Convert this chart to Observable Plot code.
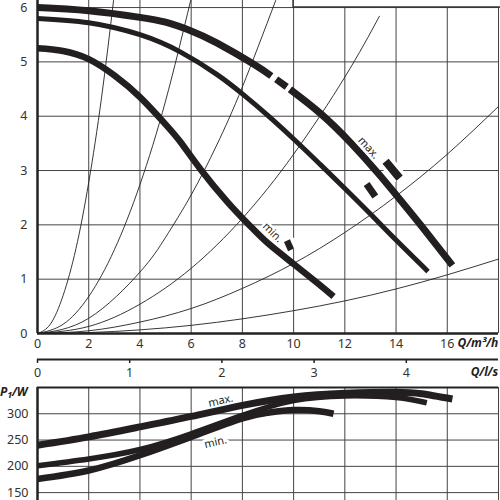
<!DOCTYPE html>
<html><head><meta charset="utf-8">
<script src="https://cdn.jsdelivr.net/npm/d3@7"></script>
<script src="https://cdn.jsdelivr.net/npm/@observablehq/plot@0.6"></script>
<style>
html,body{margin:0;padding:0;background:#fff;}
#chart{position:relative;width:500px;height:500px;overflow:hidden;font-family:"Noto Sans",sans-serif;background:#fff;}
.panel{position:absolute;left:0;}
.panel svg{display:block;overflow:visible;}
.ulab{position:absolute;font-weight:bold;font-style:italic;font-size:12px;line-height:12px;color:#222;white-space:nowrap;letter-spacing:-0.2px;}
</style></head><body>
<div id="chart">
  <div class="panel" id="top" style="top:0px"></div>
  <div class="panel" id="ls" style="top:352px"></div>
  <div class="panel" id="bot" style="top:380px"></div>
  <span class="ulab" style="right:2px;top:337px">Q/m³/h</span>
  <span class="ulab" style="right:2px;top:366px">Q/l/s</span>
  <span class="ulab" style="left:0px;top:386px;font-size:12px">P<sub style="font-size:9px;vertical-align:-2px">1</sub>/W</span>
</div>
<script>
// ---- tick values ----
const qTicks = [0, 2, 4, 6, 8, 10, 12, 14, 16];
const hTicks = [0, 1, 2, 3, 4, 5, 6];
const lsTicks = [0, 1, 2, 3, 4];
const pTicks = [150, 200, 250, 300];

// ---- pump head curves H (m) vs Q (m3/h) ----
const hMaxA_Q = [0, 2, 4, 5, 6, 7, 8.4, 9.13];
const hMaxA_H = [6.0, 5.94, 5.82, 5.73, 5.57, 5.35, 4.97, 4.74];
const hMaxB_Q = [9.32, 9.73];
const hMaxB_H = [4.68, 4.54];
const hMaxC_Q = [9.86, 11.05, 12.23, 13.28, 14.06, 15, 16.2];
const hMaxC_H = [4.495, 4.05, 3.51, 2.96, 2.52, 1.975, 1.255];

const hMid_Q = [0, 2, 4, 5.59, 7, 8, 9, 10, 11, 12, 13, 14, 15.25];
const hMid_H = [5.8, 5.72, 5.5, 5.18, 4.77, 4.41, 4.01, 3.58, 3.13, 2.67, 2.2, 1.72, 1.14];

const hMin_Q = [0, 1, 2, 3, 4, 5, 5.59, 6.37, 7.42, 8.3, 9, 10, 11, 11.56];
const hMin_H = [5.25, 5.2, 5.05, 4.75, 4.35, 3.85, 3.52, 3.02, 2.42, 1.98, 1.66, 1.28, 0.9, 0.68];

// ---- system curves ----
const sys1Q = [0, 0.5, 1, 1.5, 2, 2.5, 2.97];
const sys1H = [0, 0.17, 0.7, 1.56, 2.78, 4.34, 6.13];
const sys2Q = [0, 1, 2, 3, 4, 5, 5.98];
const sys2H = [0, 0.17, 0.68, 1.54, 2.74, 4.28, 6.13];
const sys3Q = [0, 2, 4, 5, 6, 7, 8, 9.3];
const sys3H = [0, 0.28, 1.13, 1.77, 2.55, 3.47, 4.54, 6.13];
const sys4Q = [0, 2, 4, 6, 8, 10, 12, 13.35];
const sys4H = [0, 0.13, 0.54, 1.2, 2.12, 3.3, 4.72, 5.84];
const sys5Q = [0, 2, 4, 6, 8, 10, 12, 14, 16, 18];
const sys5H = [0, 0.05, 0.21, 0.46, 0.83, 1.29, 1.86, 2.53, 3.3, 4.18];
const sys6Q = [0, 2, 4, 6, 8, 10, 12, 14, 16, 18];
const sys6H = [0, 0.017, 0.067, 0.15, 0.27, 0.42, 0.6, 0.82, 1.08, 1.37];

// ---- setting markers (short bars) ----
const markQ1 = [13.59, 12.85, 9.74];
const markH1 = [3.17, 2.75, 1.71];
const markQ2 = [14.14, 13.19, 9.9];
const markH2 = [2.86, 2.52, 1.54];
const markW = [8, 7, 6.5];

// ---- labels ----
const headLabels = ["max.", "min."];
const headLabelQ = [12.93, 9.18];
const headLabelH = [3.42, 1.86];
const headLabelRot = [48, 44];

// ---- power P1 (W) vs Q ----
const pMax_Q = [0, 2, 4, 6, 8, 10, 12, 14, 15, 16.2];
const pMax_W = [240, 256, 275, 295, 316, 332, 339, 341, 338, 328];
const pMid_Q = [0, 2, 4, 6, 8, 10, 12, 14, 15.2];
const pMid_W = [201, 214, 232, 262, 297, 325, 334, 331, 321];
const pMin_Q = [0, 2, 4, 6, 8, 9, 10, 11, 11.56];
const pMin_W = [176, 192, 221, 256, 291, 302, 307, 305, 300];

const powLabels = ["max.", "min."];
const powLabelQ = [7.15, 6.95];
const powLabelW = [325, 246];

// ---- build ----
const ink = "#231f20";
const gridC = "#444";
const pts = (qs, vs) => qs.map((q, i) => ({q, v: vs[i]}));
const font = {fontFamily: "'Noto Sans', sans-serif", fontSize: "12.5px", color: "#333", background: "transparent"};
const intFmt = d => String(d);

const thin = (qs, hs) => Plot.line(pts(qs, hs), {x: "q", y: "v", stroke: ink, strokeWidth: 0.9, curve: "natural"});
const thick = (qs, hs, w) => Plot.line(pts(qs, hs), {x: "q", y: "v", stroke: ink, strokeWidth: w, curve: "natural", strokeLinecap: "butt"});

const markers = markQ1.map((q, i) => ({x1: q, y1: markH1[i], x2: markQ2[i], y2: markH2[i], w: markW[i]}));
const hLab = headLabels.map((t, i) => ({t, q: headLabelQ[i], h: headLabelH[i], r: headLabelRot[i]}));

const topPlot = Plot.plot({
  width: 500, height: 353,
  marginLeft: 37, marginRight: 2, marginTop: 0, marginBottom: 20,
  x: {domain: [0, 18], axis: null},
  y: {domain: [0, 6.13], axis: null},
  style: font,
  marks: [
    Plot.ruleX(qTicks.slice(1).concat([18]), {y1: 0, y2: 6.13, stroke: gridC, strokeWidth: 1}),
    Plot.ruleY(hTicks.slice(1), {x1: 0, x2: 18, stroke: gridC, strokeWidth: 1}),
    Plot.rect([0], {x1: 10, x2: 18.3, y1: 6, y2: 6.6, fill: "white", stroke: "#333", strokeWidth: 1.6}),
    thin(sys1Q, sys1H), thin(sys2Q, sys2H), thin(sys3Q, sys3H),
    thin(sys4Q, sys4H), thin(sys5Q, sys5H), thin(sys6Q, sys6H),
    Plot.link(markers, {x1: "x1", y1: "y1", x2: "x2", y2: "y2", stroke: "white", strokeWidth: 15, strokeLinecap: "butt"}),
    thick(hMaxA_Q, hMaxA_H, 7), thick(hMaxB_Q, hMaxB_H, 7), thick(hMaxC_Q, hMaxC_H, 7),
    thick(hMid_Q, hMid_H, 5),
    thick(hMin_Q, hMin_H, 6.5),
    Plot.link(markers, {x1: "x1", y1: "y1", x2: "x2", y2: "y2", stroke: ink, strokeWidth: "w", strokeLinecap: "butt"}),
    Plot.text(hLab, {x: "q", y: "h", text: "t", rotate: "r", fontSize: 11, fill: ink, stroke: "white", strokeWidth: 5}),
    Plot.ruleX([0], {y1: 0, y2: 6.13, stroke: "#222", strokeWidth: 2.5}),
    Plot.ruleY([0], {x1: 0, x2: 18, stroke: "#222", strokeWidth: 2.5}),
    Plot.axisX(qTicks, {tickSize: 0, tickPadding: 6, label: null, fill: "#333", tickFormat: intFmt}),
    Plot.axisY(hTicks, {tickSize: 0, tickPadding: 10, label: null, fill: "#333", tickFormat: intFmt})
  ]
});
document.getElementById("top").appendChild(topPlot);

const lsPlot = Plot.plot({
  width: 500, height: 30,
  marginLeft: 37, marginRight: 2, marginTop: 7, marginBottom: 23,
  x: {domain: [0, 5], axis: null},
  y: {domain: [0, 1], axis: null},
  style: font,
  marks: [
    Plot.ruleY([0], {x1: 0, x2: 5, stroke: "#222", strokeWidth: 2}),
    Plot.axisX(lsTicks, {tickSize: 4, tickPadding: 4.5, label: null, stroke: "#222", strokeWidth: 1.5, fill: "#333", tickFormat: intFmt})
  ]
});
document.getElementById("ls").appendChild(lsPlot);

const pLab = powLabels.map((t, i) => ({t, q: powLabelQ[i], w: powLabelW[i]}));
const botPlot = Plot.plot({
  width: 500, height: 120,
  marginLeft: 37, marginRight: 2, marginTop: 7, marginBottom: 0,
  x: {domain: [0, 18], axis: null},
  y: {domain: [135, 350], axis: null},
  style: font,
  marks: [
    Plot.ruleX(qTicks.slice(1).concat([18]), {y1: 135, y2: 350, stroke: gridC, strokeWidth: 1}),
    Plot.ruleY(pTicks, {x1: 0, x2: 18, stroke: gridC, strokeWidth: 1}),
    Plot.text(pLab, {x: "q", y: "w", text: "t", rotate: -13, fontSize: 11, fill: ink, stroke: "white", strokeWidth: 6}),
    thick(pMax_Q, pMax_W, 7),
    thick(pMid_Q, pMid_W, 5.5),
    thick(pMin_Q, pMin_W, 6.5),
    Plot.ruleY([350], {x1: 0, x2: 18, stroke: "#222", strokeWidth: 2.2}),
    Plot.ruleX([0], {y1: 135, y2: 350, stroke: "#222", strokeWidth: 2.5}),
    Plot.axisY(pTicks, {tickSize: 0, tickPadding: 9, label: null, fill: "#333", tickFormat: intFmt})
  ]
});
document.getElementById("bot").appendChild(botPlot);
</script>
</body></html>
